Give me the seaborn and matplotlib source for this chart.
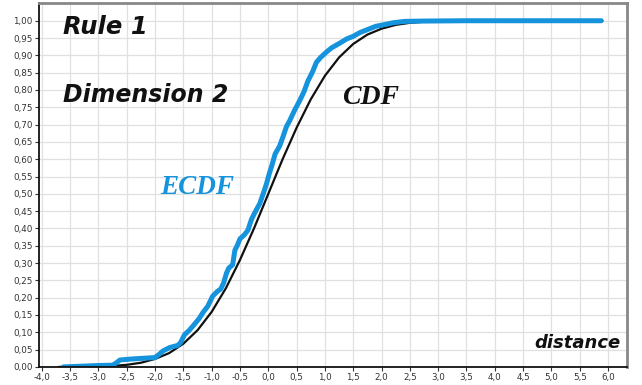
import numpy as np
import pandas as pd
import seaborn as sns
import matplotlib.pyplot as plt
from matplotlib.ticker import FuncFormatter

# ECDF curve (distance, cumulative share)
ecdf_x = [-3.62, -3.30, -3.00, -2.75, -2.68, -2.62, -2.40, -2.20, -2.00, -1.93,
          -1.86, -1.74, -1.60, -1.55, -1.48, -1.40, -1.30, -1.22, -1.15, -1.07,
          -0.98, -0.90, -0.84, -0.79, -0.74, -0.70, -0.63, -0.59, -0.55, -0.50,
          -0.42, -0.36, -0.30, -0.24, -0.15, -0.08, -0.03, 0.02, 0.06, 0.12,
          0.20, 0.26, 0.32, 0.38, 0.46, 0.56, 0.63, 0.70, 0.78, 0.85,
          0.93, 1.03, 1.12, 1.26, 1.38, 1.50, 1.62, 1.73, 1.90, 2.03,
          2.20, 2.40, 2.70, 3.50, 5.88]
ecdf_y = [0.000, 0.002, 0.004, 0.005, 0.012, 0.020, 0.023, 0.025, 0.027, 0.036,
          0.046, 0.056, 0.062, 0.070, 0.093, 0.105, 0.124, 0.140, 0.158, 0.175,
          0.205, 0.218, 0.225, 0.242, 0.270, 0.285, 0.295, 0.337, 0.350, 0.370,
          0.382, 0.395, 0.425, 0.445, 0.472, 0.505, 0.530, 0.560, 0.580, 0.615,
          0.638, 0.665, 0.694, 0.712, 0.740, 0.771, 0.795, 0.826, 0.852, 0.880,
          0.895, 0.910, 0.922, 0.935, 0.947, 0.955, 0.966, 0.973, 0.984, 0.988,
          0.994, 0.998, 0.999, 1.000, 1.000]

# theoretical CDF
cdf_x = [-3.70, -3.00, -2.75, -2.50, -2.25, -2.00, -1.75, -1.50, -1.25, -1.00,
         -0.75, -0.50, -0.25, 0.00, 0.25, 0.50, 0.75, 1.00, 1.25, 1.50,
         1.75, 2.00, 2.25, 2.50, 2.75, 3.00, 3.50, 5.90]
cdf_y = [0.000, 0.001, 0.003, 0.006, 0.012, 0.023, 0.040, 0.067, 0.106, 0.159,
         0.227, 0.309, 0.401, 0.500, 0.599, 0.691, 0.773, 0.841, 0.894, 0.933,
         0.960, 0.977, 0.988, 0.994, 0.997, 0.999, 1.000, 1.000]

x_ticks = np.arange(-4.0, 6.01, 0.5)
y_ticks = np.arange(0.0, 1.001, 0.05)

blue = '#1593dc'

sns.set_theme(style='whitegrid')
plt.rcParams['font.family'] = ['DejaVu Sans']

fig = plt.figure(figsize=(6.42, 3.85), dpi=100)
ax = fig.add_axes([0.0607, 0.047, 0.9155, 0.945])

sns.lineplot(x=cdf_x, y=cdf_y, ax=ax, color='#111111', lw=1.6, sort=False, estimator=None)
sns.lineplot(x=ecdf_x, y=ecdf_y, ax=ax, color=blue, lw=3.6, sort=False, estimator=None)

ax.set_xlim(-4.05, 6.33)
ax.set_ylim(0, 1.051)
ax.set_xticks(x_ticks)
ax.set_yticks(y_ticks)
ax.xaxis.set_major_formatter(FuncFormatter(lambda v, p: f'{v:.1f}'.replace('.', ',')))
ax.yaxis.set_major_formatter(FuncFormatter(lambda v, p: f'{v:.2f}'.replace('.', ',')))
ax.tick_params(axis='both', labelsize=6.3, colors='#333333', length=3, width=0.8,
               pad=1.5, direction='out', bottom=True, left=True)
ax.grid(True, color='#e0e0e0', lw=0.9)

ax.spines['left'].set_color('#111111')
ax.spines['bottom'].set_color('#111111')
ax.spines['top'].set_color('#888888')
ax.spines['right'].set_color('#888888')
for s in ax.spines.values():
    s.set_linewidth(1.3)
ax.spines['top'].set_linewidth(2)
ax.spines['right'].set_linewidth(2)

# annotations
fig.text(63 / 642, 1 - 27 / 385, 'Rule 1', fontsize=17.5, fontweight='bold',
         fontstyle='italic', color='#111111', va='center', ha='left')
fig.text(63 / 642, 1 - 95 / 385, 'Dimension 2', fontsize=17, fontweight='bold',
         fontstyle='italic', color='#111111', va='center', ha='left')
fig.text(160 / 642, 1 - 187 / 385, 'ECDF', fontsize=19.5, fontweight='bold',
         fontstyle='italic', color=blue, va='center', ha='left',
         family='Liberation Serif')
fig.text(342 / 642, 1 - 98 / 385, 'CDF', fontsize=20, fontweight='bold',
         fontstyle='italic', color='#111111', va='center', ha='left',
         family='Liberation Serif')
fig.text(621 / 642, 1 - 343 / 385, 'distance', fontsize=13, fontweight='bold',
         fontstyle='italic', color='#111111', va='center', ha='right')

fig.savefig('out.png', dpi=100)
